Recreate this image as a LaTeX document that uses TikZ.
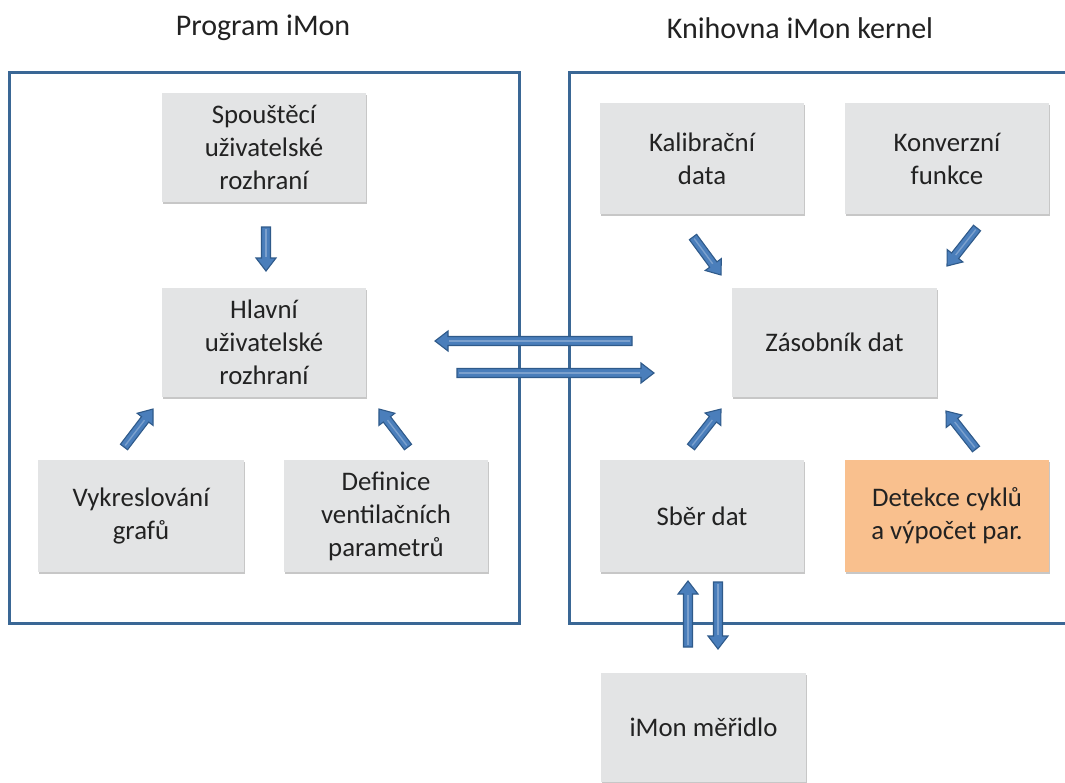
\documentclass[tikz,border=0pt]{standalone}
\usepackage{fontspec}
\setmainfont{Carlito}
\usetikzlibrary{calc,shadows}
\definecolor{frameblue}{HTML}{3A6795}
\definecolor{boxgray}{HTML}{E3E4E5}
\definecolor{boxorange}{HTML}{F9C08E}
\definecolor{arrfill}{HTML}{4A7EBB}
\definecolor{arrdark}{HTML}{2F5A8A}
\definecolor{txt}{HTML}{222222}
\tikzset{
  frame/.style={draw=frameblue, line width=3pt},
  box/.style={fill=boxgray, text=txt, align=center, inner sep=0pt,
    font=\fontsize{26.8}{33}\selectfont,
    general shadow={fill=black!22, shadow xshift=1pt, shadow yshift=-1.5pt}},
  title/.style={text=txt, font=\fontsize{30}{35}\selectfont},
  barr/.style={draw=arrdark, fill=arrfill, line width=1.1pt, line join=miter}
}
\newcommand\blockarr[2]{%
  \draw[barr] let \p1=($(#2)-(#1)$), \n1={veclen(\x1,\y1)}, \n2={atan2(\y1,\x1)} in
    [shift={(#1)}, rotate=\n2]
    (0pt,-4.5pt) -- (\n1-13pt,-4.5pt) -- (\n1-13pt,-10pt) -- (\n1,0pt) --
    (\n1-13pt,10pt) -- (\n1-13pt,4.5pt) -- (0pt,4.5pt) -- cycle;
  \draw[line width=1.4pt, arrfill!55!white, opacity=0.6] let \p1=($(#2)-(#1)$), \n1={veclen(\x1,\y1)}, \n2={atan2(\y1,\x1)} in
    [shift={(#1)}, rotate=\n2] (2pt,0pt) -- (\n1-14pt,0pt);
}
\begin{document}
\begin{tikzpicture}[x=1pt,y=-1pt]
\useasboundingbox (0,0) rectangle (1065,782);
% titles
\node[title] (t1) at (263,28) {Program iMon};
\node[title] (t2) at (800,28) {Knihovna iMon kernel};
% frames
\draw[frame] (9,72) rectangle (519,623);
\draw[frame] (1075,72) -- (569,72) -- (569,623) -- (1075,623);
% boxes
\node[box, minimum width=204, minimum height=109] (spust) at (264,147.5) {Spouštěcí\\uživatelské\\rozhraní};
\node[box, minimum width=204, minimum height=109] (hlav) at (264,342.5) {Hlavní\\uživatelské\\rozhraní};
\node[box, minimum width=206, minimum height=112] (vykr) at (141,516) {Vykreslování\\grafů};
\node[box, minimum width=204, minimum height=112] (defin) at (386,516) {Definice\\ventilačních\\parametrů};
\node[box, minimum width=204, minimum height=111] (kalib) at (702,158.5) {Kalibrační\\data};
\node[box, minimum width=204, minimum height=111] (konv) at (947,158.5) {Konverzní\\funkce};
\node[box, minimum width=205, minimum height=109] (zas) at (834.5,342.5) {Zásobník dat};
\node[box, minimum width=204, minimum height=112] (sber) at (702,516) {Sběr dat};
\node[box, fill=boxorange, minimum width=204, minimum height=112] (detek) at (947,516) {Detekce cyklů\\a výpočet par.};
\node[box, minimum width=205, minimum height=109] (meri) at (703.5,727.5) {iMon měřidlo};
% arrow end points
\coordinate (a1s) at (266,227); \coordinate (a1e) at (266,271);
\coordinate (a2s) at (632,341); \coordinate (a2e) at (435,341);
\coordinate (a3s) at (457,373); \coordinate (a3e) at (654,373);
\coordinate (a4s) at (688,647); \coordinate (a4e) at (688,581);
\coordinate (a5s) at (718,582); \coordinate (a5e) at (718,649);
\coordinate (a6s) at (124,447); \coordinate (a6e) at (153,409);
\coordinate (a7s) at (408,447); \coordinate (a7e) at (379,409);
\coordinate (a8s) at (693,237); \coordinate (a8e) at (721,275);
\coordinate (a9s) at (977,228); \coordinate (a9e) at (947,266);
\coordinate (a10s) at (691,447); \coordinate (a10e) at (721,409);
\coordinate (a11s) at (976,449); \coordinate (a11e) at (946,411);
\blockarr{a1s}{a1e}
\blockarr{a2s}{a2e}
\blockarr{a3s}{a3e}
\blockarr{a4s}{a4e}
\blockarr{a5s}{a5e}
\blockarr{a6s}{a6e}
\blockarr{a7s}{a7e}
\blockarr{a8s}{a8e}
\blockarr{a9s}{a9e}
\blockarr{a10s}{a10e}
\blockarr{a11s}{a11e}
\end{tikzpicture}
\end{document}
